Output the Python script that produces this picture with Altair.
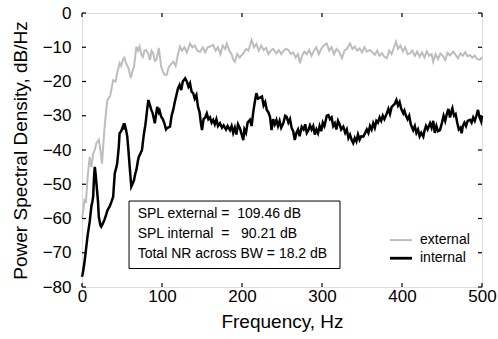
import altair as alt
import pandas as pd

# ---------------- data ----------------
ext_f = [0, 2, 3, 5, 7, 9.6, 11.7, 14, 16, 18, 21, 23, 25, 28, 30, 31.7, 35, 37, 39, 42,
         44, 47, 49, 51, 53, 55, 58, 61, 63, 65, 68, 70, 72, 74, 76, 78, 80, 83, 85, 87,
         89, 91, 93, 96, 99, 101, 103, 106, 108, 111, 114, 117, 120, 122.5, 125, 128, 131,
         135, 138, 141, 144, 147.5, 151, 154, 157, 160, 164, 167, 170, 173, 176, 179, 181,
         184, 187, 189, 191, 194, 197, 201.6, 205, 208, 212, 215, 218, 221, 224, 227, 230,
         233, 236, 239, 243, 246, 249, 252, 255, 258, 261, 264, 267, 270, 272.5, 275, 278,
         281, 284, 287, 290, 293, 296, 299, 302, 306, 309, 312, 315, 318, 321, 325, 328,
         331, 335, 338, 341, 344, 347, 350, 353, 356, 360, 363, 366, 369, 372, 375, 378,
         381, 384, 387, 390, 392.5, 395, 398, 401, 404, 407, 410, 413, 416, 419, 422, 425,
         428, 431, 434, 437, 439, 442, 445, 448, 451, 454, 457, 460, 464, 467, 470, 473,
         476, 479, 482, 485, 488, 491, 494, 497.5, 500]
ext_db = [-60, -57, -54.6, -55, -48, -42, -45, -41, -40, -38, -37, -40, -44, -34, -29, -25.4,
          -24.4, -22, -19.6, -20, -17.5, -14.6, -15.5, -13.7, -13, -14.7, -16, -19, -17, -15.7,
          -9.8, -11, -9.8, -12, -12.8, -11, -10.8, -12, -13.7, -11, -11.7, -14, -13.7, -10.2,
          -15.7, -17, -18, -18, -16, -15, -14.2, -15.5, -12, -9.8, -11, -10, -11.5, -8.9, -10,
          -9.5, -11, -11.3, -10, -11.5, -10, -9.8, -9.3, -11, -10, -12, -9.5, -10.5, -8.9, -11,
          -12, -13.5, -14.2, -12, -13, -11.8, -10.5, -11, -7.9, -10, -9, -11, -9.5, -10.8,
          -10.2, -12, -11, -10.5, -11.8, -10.8, -12, -11, -10.5, -10.8, -12, -11.5, -13, -12,
          -14.7, -12.5, -11.3, -12, -10.8, -12.5, -11, -10, -12, -10.5, -9.5, -8.9, -11, -10,
          -12, -10.5, -11.2, -13.2, -11, -10.5, -8.9, -10.5, -9.8, -11, -10.3, -11.5, -10,
          -11.3, -10.8, -11.5, -12.2, -11, -12.5, -11.8, -12.8, -13.2, -11, -12, -10, -8.4,
          -10.5, -9.5, -11.2, -10, -12, -11.8, -11, -12.5, -11.3, -12.8, -11.5, -13, -11.2,
          -12.5, -12, -14.2, -12, -13.5, -11.8, -12.5, -13.8, -11.6, -12.4, -11.3, -12.2,
          -13.2, -11.8, -12.5, -11.5, -12.6, -12.3, -13, -12.4, -13.5, -13.7, -12.8]

int_f = [0, 1, 3, 5, 7, 9.6, 11.7, 13, 14, 15, 16, 17, 18, 20, 21, 23, 24, 26, 28, 30, 32,
         34.6, 37, 39, 40, 41, 43, 44, 46, 47, 49, 51, 52, 53, 55, 56.6, 58, 59.6, 61.6, 63,
         65, 66.5, 68, 70, 71, 73, 75, 76.5, 77.5, 79, 80, 81.5, 83, 85, 86.6, 88, 90, 91, 93,
         94, 96, 97, 99, 101, 103, 105, 107, 110, 112, 114, 116, 118, 120, 122, 124, 126,
         129, 131, 133, 135, 137, 139, 141, 143, 145, 147, 148.5, 150, 152, 154, 156, 158,
         160, 162, 164, 166, 168, 170, 172.5, 175, 177, 180, 182, 185, 187, 189, 191, 193,
         195, 197.5, 199, 201.6, 203, 205, 207, 210, 212, 214, 216, 218, 220, 222, 225, 227,
         229, 231, 233, 235, 237, 239, 241, 243, 245, 247, 249, 251.6, 254, 255.8, 258, 260,
         262, 264, 266, 268, 270, 272, 274.6, 277, 279, 281, 283, 285, 287, 289, 291, 293,
         295, 297, 299, 301, 303, 306, 308, 310, 312, 314, 316, 318, 320, 322, 324, 326.6,
         329, 331, 333, 335, 337, 339, 341, 343, 345, 347, 349, 351.6, 354, 356, 358, 360,
         362, 364, 366, 368, 370, 372, 374, 376, 378, 381, 383, 385, 387, 389, 391, 393, 395,
         397, 399, 401.6, 403, 405, 407, 409, 411, 414, 416, 418, 420, 422, 424, 426.6, 428,
         430, 432, 435, 437, 439, 441, 443, 445, 447.5, 450, 452, 454, 456, 458, 460, 462,
         463, 465, 467, 469, 471, 473, 474.6, 476, 478, 480, 482, 485, 487, 489, 491, 493,
         495, 497, 499, 500]
int_db = [-77, -76, -73, -69, -65, -61, -56.5, -55, -53.6, -48, -44.9, -47, -49.7, -55, -59.5,
          -62, -62.4, -61.5, -60.4, -59, -57.5, -56.5, -55, -53.6, -50, -46.8, -45, -43.9, -39,
          -35.1, -34.5, -33.2, -34, -32.2, -34, -36.1, -40, -44.9, -50.7, -50, -48.8, -47,
          -45.8, -43, -42, -41, -40, -37, -35.1, -33, -31.2, -28, -25.4, -27, -28.3, -29, -31,
          -32.2, -29, -27.4, -29, -28.5, -30.3, -31, -32.2, -34, -33.5, -33.2, -30, -28.3, -26,
          -24, -22, -21, -22.5, -20, -19.1, -20, -21.5, -20.5, -23, -23.4, -25, -24, -27.4,
          -29, -32, -34.2, -31, -30.5, -29.3, -31, -30.5, -32, -31.2, -32.5, -31, -33, -32.2,
          -33.5, -32.8, -34, -33, -34.2, -33, -35, -33.5, -35.5, -32.5, -33.7, -35, -37.1, -34,
          -35, -32, -31.2, -33, -29, -26, -23.4, -25, -24.8, -24.4, -27, -26, -28.3, -29, -30.3,
          -34.2, -31, -32.5, -31.2, -33, -31.5, -33.5, -32.2, -30, -30.3, -32, -31, -33.5,
          -34.5, -37.1, -35, -34, -36, -33.2, -34, -32.5, -35, -34.2, -32.8, -34, -33, -35.5,
          -34, -35.1, -33, -34.5, -32, -33, -30, -29.8, -31, -30.5, -33, -32.2, -34, -31.5,
          -32.5, -34, -33.2, -35, -34, -36.5, -35.5, -37, -38, -36.5, -37.5, -35.5, -37, -36,
          -36.1, -35, -34, -35, -33, -34, -32.2, -33.5, -31.5, -32, -30.5, -31.5, -30, -31,
          -29.3, -28, -29.5, -27.5, -27, -26.5, -25.4, -27, -26, -28, -29.3, -28.5, -30, -31,
          -30, -32.5, -34.2, -33, -35, -34, -36, -35, -36.1, -34.5, -33, -34, -32.2, -33.5,
          -31.5, -35, -33, -34.5, -34.2, -32, -30, -31.5, -29.5, -28, -30.5, -28.5, -27.8, -30,
          -29.5, -32, -34, -33.5, -35.1, -33, -32, -33, -31.5, -31.2, -32, -30.5, -31.5, -30,
          -28.3, -30.5, -31.7, -30]

x_ticks = [0, 100, 200, 300, 400, 500]
y_ticks = [-80, -70, -60, -50, -40, -30, -20, -10, 0]

box_lines = ["SPL external =\u00a0 109.46 dB",
             "SPL internal \u00a0=\u00a0\u00a0 90.21 dB",
             "Total NR across BW = 18.2 dB"]
legend_names = ["external", "internal"]
legend_colors = ["#bdbdbd", "#000000"]

# ---------------- layout constants ----------------
W, H = 400, 274
FONT = "Liberation Sans"
GRAY = "#bdbdbd"

xs = alt.Scale(domain=[0, 500], nice=False, zero=False)
ys = alt.Scale(domain=[-80, 0], nice=False, zero=False)

xa = alt.Axis(values=x_ticks, title="Frequency, Hz", domain=False, ticks=False, grid=False,
              labelFontSize=17, labelPadding=1, labelColor="black", labelFlush=False,
              labelOverlap=False, titleFontSize=19, titleFontWeight="normal",
              titleColor="black", titleBaseline="alphabetic", titleY=40)
ya = alt.Axis(values=y_ticks, title="Power Spectral Density, dB/Hz", domain=False,
              ticks=False, grid=False, labelFontSize=17, labelPadding=11,
              labelColor="black", labelOverlap=False, titleFontSize=19,
              titleFontWeight="normal", titleColor="black", titleBaseline="alphabetic",
              titleX=-56, titleY=H / 2, titleAngle=270)

ext_df = pd.DataFrame({"f": ext_f, "db": ext_db})
int_df = pd.DataFrame({"f": int_f, "db": int_db})

ext_line = alt.Chart(ext_df).mark_line(color=GRAY, strokeWidth=2).encode(
    x=alt.X("f:Q", scale=xs, axis=xa), y=alt.Y("db:Q", scale=ys, axis=ya))
int_line = alt.Chart(int_df).mark_line(color="black", strokeWidth=2.5).encode(
    x=alt.X("f:Q", scale=xs, axis=xa), y=alt.Y("db:Q", scale=ys, axis=ya))

# inward ticks on all four sides
xt_df = pd.DataFrame({"f": x_ticks})
yt_df = pd.DataFrame({"db": y_ticks})
tick_style = dict(color="black", strokeWidth=1.2)
xt_bottom = alt.Chart(xt_df).mark_rule(**tick_style).encode(
    x=alt.X("f:Q", scale=xs, axis=xa), y=alt.value(H - 4), y2=alt.value(H))
xt_top = alt.Chart(xt_df).mark_rule(**tick_style).encode(
    x=alt.X("f:Q", scale=xs, axis=xa), y=alt.value(0), y2=alt.value(4))
yt_left = alt.Chart(yt_df).mark_rule(**tick_style).encode(
    y=alt.Y("db:Q", scale=ys, axis=ya), x=alt.value(0), x2=alt.value(4))
yt_right = alt.Chart(yt_df).mark_rule(**tick_style).encode(
    y=alt.Y("db:Q", scale=ys, axis=ya), x=alt.value(W - 4), x2=alt.value(W))

# annotation box
box_df = pd.DataFrame({"f": [58.8], "f2": [322.5], "db": [-54.9], "db2": [-74.6]})
box = alt.Chart(box_df).mark_rect(fill="white", stroke="black", strokeWidth=1).encode(
    x=alt.X("f:Q", scale=xs, axis=xa), x2="f2:Q",
    y=alt.Y("db:Q", scale=ys, axis=ya), y2="db2:Q")
txt_df = pd.DataFrame({"label": box_lines, "f": [69.6] * 3, "db": [-58.7, -64.6, -70.4]})
box_text = alt.Chart(txt_df).mark_text(align="left", baseline="middle", fontSize=14,
                                       font=FONT, color="black").encode(
    x=alt.X("f:Q", scale=xs, axis=xa), y=alt.Y("db:Q", scale=ys, axis=ya), text="label:N")

# legend
leg_df = pd.DataFrame({"name": legend_names, "color": legend_colors,
                       "sw": [2, 2.8],
                       "f": [385, 385], "f2": [412.5, 412.5],
                       "ft": [422.5, 422.5], "db": [-66.3, -71.6]})
leg_lines = alt.Chart(leg_df).mark_rule().encode(
    x=alt.X("f:Q", scale=xs, axis=xa), x2="f2:Q",
    y=alt.Y("db:Q", scale=ys, axis=ya),
    color=alt.Color("color:N", scale=None),
    strokeWidth=alt.StrokeWidth("sw:Q", scale=None))
leg_text = alt.Chart(leg_df).mark_text(align="left", baseline="middle", fontSize=14,
                                       font=FONT, color="black").encode(
    x=alt.X("ft:Q", scale=xs, axis=xa), y=alt.Y("db:Q", scale=ys, axis=ya), text="name:N")

chart = alt.layer(
    ext_line, int_line, box, box_text, leg_lines, leg_text,
    xt_bottom, xt_top, yt_left, yt_right
).properties(
    width=W, height=H,
    autosize=alt.AutoSizeParams(type="none"),
    padding={"left": 82, "top": 13, "right": 16, "bottom": 52},
    background="white",
).configure_view(
    stroke="black", strokeWidth=1.5
).configure(
    font=FONT
)

chart.save("out.html", embed_options={"renderer": "svg", "actions": False})
